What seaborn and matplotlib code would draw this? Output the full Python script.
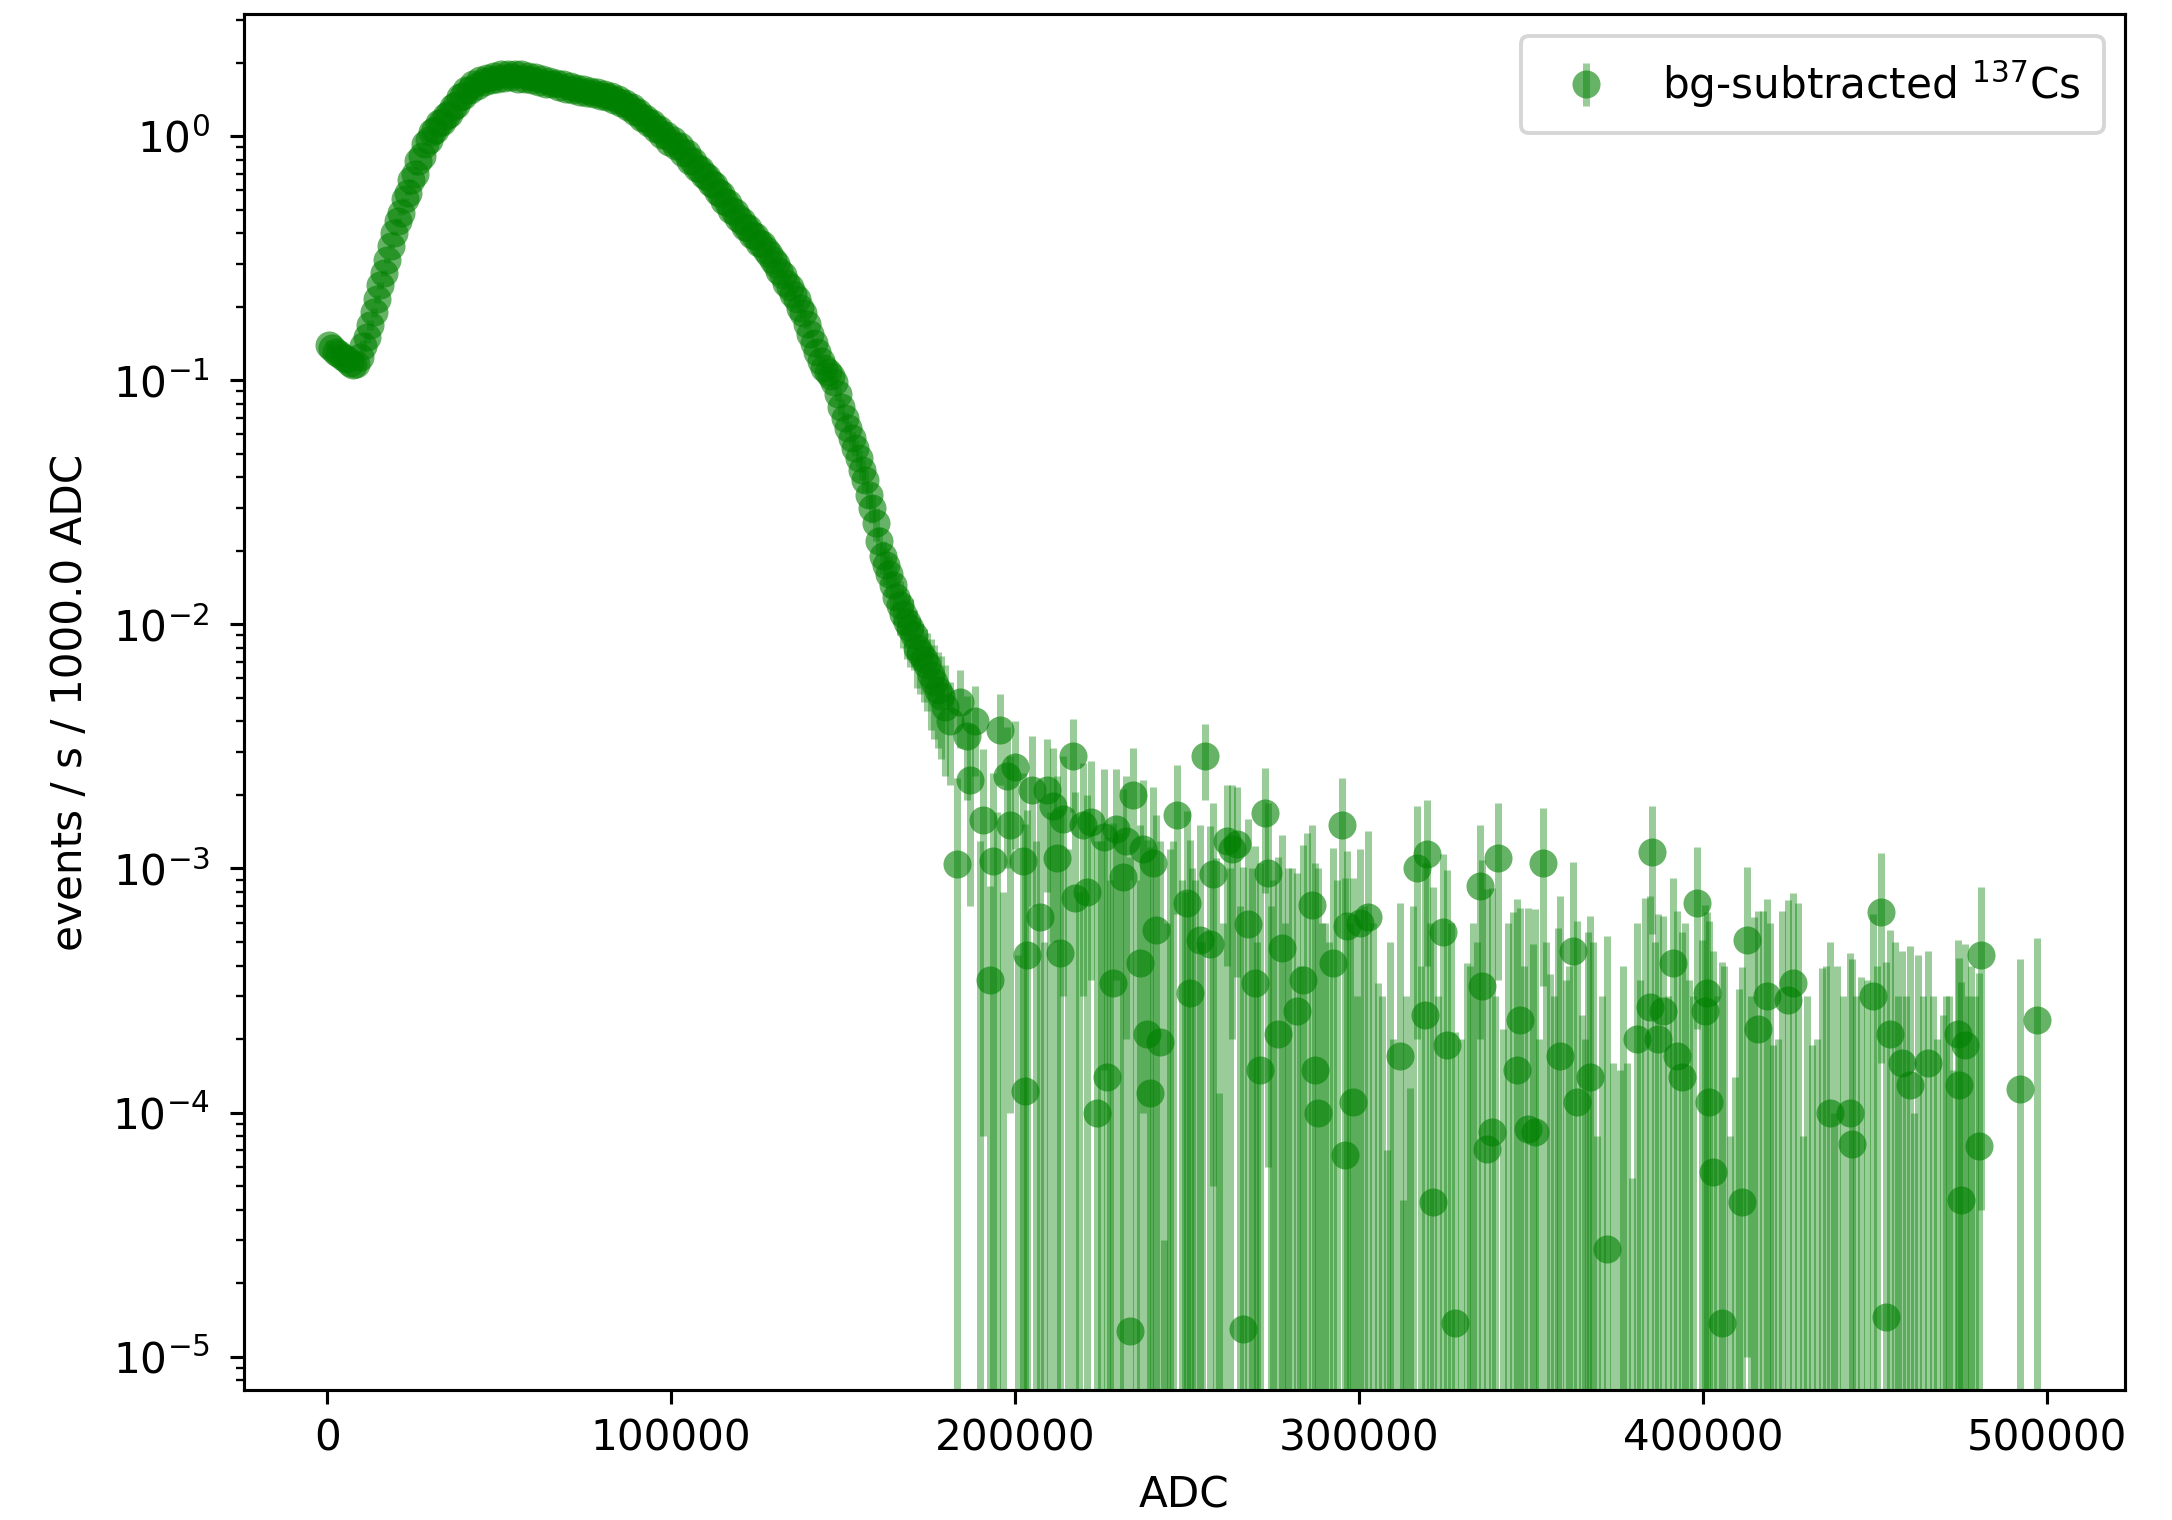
import numpy as np
import pandas as pd
import seaborn as sns
import matplotlib
matplotlib.use('Agg')
import matplotlib.pyplot as plt

# bg-subtracted 137Cs spectrum, 1000 ADC bins, rates in events / s / 1000 ADC
# photopeak region (bin centres 500 ... 179500)
peak_adc = np.arange(500, 180000, 1000)
peak_rate = [0.140, 0.135, 0.131, 0.128, 0.125, 0.122, 0.118, 0.115, 0.117, 0.125,
             0.138, 0.150, 0.168, 0.190, 0.215, 0.245, 0.275, 0.310, 0.355, 0.400,
             0.450, 0.485, 0.550, 0.585, 0.660, 0.700, 0.790, 0.830, 0.930, 0.960,
             1.04, 1.06, 1.13, 1.14, 1.21, 1.23, 1.32, 1.34, 1.44, 1.46,
             1.55, 1.55, 1.63, 1.61, 1.69, 1.66, 1.73, 1.69, 1.77, 1.71,
             1.79, 1.73, 1.80, 1.74, 1.80, 1.71, 1.79, 1.71, 1.77, 1.69,
             1.74, 1.67, 1.71, 1.64, 1.68, 1.63, 1.65, 1.59, 1.63, 1.56,
             1.61, 1.54, 1.58, 1.52, 1.56, 1.50, 1.53, 1.49, 1.51, 1.46,
             1.49, 1.44, 1.46, 1.41, 1.42, 1.36, 1.37, 1.31, 1.31, 1.25,
             1.25, 1.19, 1.19, 1.13, 1.13, 1.07, 1.07, 1.01, 1.01, 0.95,
             0.96, 0.91, 0.91, 0.85, 0.85, 0.79, 0.79, 0.74, 0.73, 0.69,
             0.68, 0.64, 0.63, 0.59, 0.58, 0.54, 0.53, 0.50, 0.49, 0.46,
             0.45, 0.425, 0.42, 0.395, 0.39, 0.365, 0.36, 0.34, 0.33, 0.31,
             0.30, 0.28, 0.27, 0.25, 0.24, 0.225, 0.215, 0.197, 0.188, 0.170,
             0.155, 0.142, 0.130, 0.120, 0.112, 0.108, 0.104, 0.098, 0.088, 0.078,
             0.070, 0.064, 0.058, 0.053, 0.048, 0.043, 0.039, 0.034, 0.030, 0.026,
             0.022, 0.019, 0.0175, 0.016, 0.0145, 0.013, 0.012, 0.011, 0.0102, 0.0097,
             0.0090, 0.0080, 0.0076, 0.0072, 0.0068, 0.0062, 0.0058, 0.0054, 0.0051, 0.0046]
peak_err = ([0.006] * 10 + [0.008] * 10 + [0.010] * 10 + [0.012] * 20 + [0.013] * 50
            + [0.011] * 10 + [0.010] * 10 + [0.009] * 10 + [0.008] * 10 + [0.006] * 10
            + [0.004] * 10 + [0.003] * 10
            + [0.0025, 0.0025, 0.0024, 0.0024, 0.0024, 0.0025, 0.0024, 0.0023, 0.0023, 0.0022])

# Compton tail (negative rates have no marker on the log axis, only the bar)
tail_adc = [181000, 183000, 184000, 186000, 187000, 188500, 190800, 192700, 193700, 195600,
            197600, 198500, 200000, 200800, 202300, 202900, 203500, 205000, 207300, 209300,
            211000, 212200, 213100, 214000, 216900, 217500, 219800, 220900, 222000, 223800,
            226000, 226700, 228500, 229500, 231400, 232200, 233400, 234300, 236300, 237200,
            238300, 239200, 240100, 241000, 242200, 243300, 245000, 247100, 248500, 250000,
            250900, 252300, 253800, 255200, 256700, 257600, 259300, 261600, 263200, 264500,
            266300, 267800, 269800, 271200, 272700, 273600, 275000, 276500, 277600, 279400,
            281900, 283700, 285000, 286300, 287200, 288200, 290200, 292500, 295000, 295900,
            296500, 298300, 300300, 302600, 305500, 308100, 311900, 312900, 314800, 316900,
            319200, 319800, 321500, 324400, 325600, 327900, 331300, 335200, 335800, 337200,
            338700, 340400, 341900, 344800, 345900, 346800, 349100, 350600, 351200, 353500,
            355500, 357900, 358400, 362200, 363400, 364800, 366600, 367200, 369100, 372100,
            373800, 377900, 379300, 380800, 381700, 383300, 384600, 385200, 387000, 388400,
            391300, 392400, 393900, 396000, 398200, 399700, 400600, 401200, 401800, 402900,
            405500, 406200, 407800, 409300, 410500, 411300, 412800, 415000, 416000, 417500,
            418600, 420500, 423000, 424700, 426200, 427800, 429100, 431700, 434500, 437000,
            439000, 442700, 443300, 446000, 449400, 451700, 453200, 454400, 455800, 457800,
            460200, 462500, 465600, 468000, 471500, 474100, 474600, 475000, 476200, 478000,
            480200, 480800, 492200, 497100,
            310000, 329600, 333300, 360300, 375800, 440800, 447700, 469800]
tail_rate = [4.0e-3, 1.04e-3, 4.8e-3, 3.5e-3, 2.3e-3, 4.0e-3, 1.58e-3, 3.5e-4, 1.07e-3, 3.7e-3,
             2.4e-3, 1.5e-3, 2.6e-3, -3.0e-4, 1.07e-3, 1.23e-4, 4.4e-4, 2.1e-3, 6.3e-4, 2.1e-3,
             1.8e-3, 1.1e-3, 4.5e-4, 1.6e-3, 2.9e-3, 7.6e-4, 1.5e-3, 8.0e-4, 1.55e-3, 1.0e-4,
             1.35e-3, 1.4e-4, 3.4e-4, 1.45e-3, 9.2e-4, 1.3e-3, 1.27e-5, 2.0e-3, 4.1e-4, 1.2e-3,
             2.1e-4, 1.2e-4, 1.05e-3, 5.6e-4, 1.95e-4, -8.0e-4, -2.0e-4, 1.65e-3, -3.0e-4, 7.2e-4,
             3.1e-4, -4.0e-4, 5.1e-4, 2.9e-3, 4.9e-4, 9.5e-4, -5.0e-4, 1.3e-3, 1.2e-3, 1.26e-3,
             1.3e-5, 5.9e-4, 3.4e-4, 1.5e-4, 1.69e-3, 9.6e-4, -3.0e-4, 2.1e-4, 4.7e-4, -2.0e-4,
             2.6e-4, 3.5e-4, -3.0e-4, 7.1e-4, 1.5e-4, 1.0e-4, -4.0e-4, 4.1e-4, 1.5e-3, 6.7e-5,
             5.8e-4, 1.1e-4, 6.0e-4, 6.3e-4, -4.0e-4, -6.0e-4, 1.7e-4, -7.0e-4, -6.0e-4, 1.0e-3,
             2.5e-4, 1.15e-3, 4.3e-5, 5.5e-4, 1.9e-4, 1.37e-5, -4.0e-4, 8.5e-4, 3.3e-4, 7.1e-5,
             8.3e-5, 1.1e-3, -5.0e-4, -3.0e-4, 1.5e-4, 2.4e-4, 8.6e-5, -3.0e-4, 8.3e-5, 1.05e-3,
             -3.0e-4, -2.0e-4, 1.7e-4, 4.6e-4, 1.1e-4, -3.0e-4, -2.0e-4, 1.4e-4, -5.0e-4, 2.75e-5,
             -4.0e-4, -4.0e-4, -5.0e-4, 2.0e-4, -2.0e-4, -1.0e-4, 2.7e-4, 1.17e-3, 2.0e-4, 2.6e-4,
             4.1e-4, 1.7e-4, 1.4e-4, -3.0e-4, 7.2e-4, -2.0e-4, 2.6e-4, 3.1e-4, 1.1e-4, 5.7e-5,
             1.37e-5, -3.0e-4, -4.0e-4, -3.0e-4, -2.0e-4, 4.3e-5, 5.1e-4, -2.0e-4, 2.2e-4, -2.0e-4,
             3.0e-4, -3.0e-4, -2.0e-4, 2.9e-4, 3.4e-4, -2.0e-4, -4.0e-4, -3.0e-4, -3.0e-4, 1.0e-4,
             -3.0e-4, 1.0e-4, 7.4e-5, -3.0e-4, 3.0e-4, 6.6e-4, 1.45e-5, 2.1e-4, -3.0e-4, 1.6e-4,
             1.3e-4, -3.0e-4, 1.6e-4, -3.0e-4, -3.0e-4, 2.1e-4, 1.3e-4, 4.4e-5, 1.9e-4, -3.0e-4,
             7.3e-5, 4.4e-4, 1.25e-4, 2.4e-4,
             -5.0e-4, -4.0e-4, -3.0e-4, -3.0e-4, -4.0e-4, -3.0e-4, -3.0e-4, -3.0e-4]
tail_err = [1.8e-3, 1.3e-3, 1.7e-3, 1.6e-3, 1.6e-3, 1.6e-3, 1.5e-3, 5.0e-4, 1.4e-3, 1.5e-3,
            1.4e-3, 1.4e-3, 1.4e-3, 7.4e-4, 1.4e-3, 1.4e-3, 1.3e-3, 1.4e-3, 1.3e-3, 1.3e-3,
            1.3e-3, 1.3e-3, 1.3e-3, 1.3e-3, 1.2e-3, 1.3e-3, 1.2e-3, 1.2e-3, 1.2e-3, 1.2e-3,
            1.2e-3, 1.2e-3, 1.2e-3, 1.1e-3, 1.2e-3, 1.1e-3, 1.1e-3, 1.1e-3, 1.1e-3, 1.1e-3,
            1.1e-3, 1.1e-3, 1.1e-3, 1.1e-3, 1.1e-3, 8.3e-4, 1.4e-3, 1.0e-3, 1.2e-3, 1.0e-3,
            1.0e-3, 1.3e-3, 1.0e-3, 1.0e-3, 1.0e-3, 9.0e-4, 6.2e-4, 9.0e-4, 1.0e-3, 9.0e-4,
            1.0e-3, 1.0e-3, 9.0e-4, 9.0e-4, 9.0e-4, 9.0e-4, 1.2e-3, 9.0e-4, 9.0e-4, 1.2e-3,
            7.0e-4, 9.0e-4, 1.7e-3, 8.0e-4, 9.0e-4, 9.0e-4, 1.0e-3, 8.0e-4, 8.5e-4, 8.5e-4,
            6.0e-4, 8.0e-4, 6.0e-4, 8.0e-4, 7.4e-4, 6.7e-4, 5.5e-4, 7.44e-4, 7.26e-4, 8.0e-4,
            8.0e-4, 7.5e-4, 8.0e-4, 6.0e-4, 8.0e-4, 2.0e-4, 8.1e-4, 6.5e-4, 7.5e-4, 7.5e-4,
            7.5e-4, 7.5e-4, 7.2e-4, 9.6e-4, 6.0e-4, 4.5e-4, 6.0e-4, 7.9e-4, 6.0e-4, 7.2e-4,
            6.7e-4, 7.7e-4, 6.0e-4, 6.0e-4, 5.0e-4, 5.5e-4, 7.5e-4, 5.0e-4, 5.8e-4, 5.0e-4,
            5.6e-4, 5.6e-4, 5.54e-4, 4.0e-4, 5.5e-4, 8.6e-4, 5.0e-4, 6.3e-4, 4.5e-4, 3.8e-4,
            5.0e-4, 5.0e-4, 4.1e-4, 6.5e-4, 5.0e-4, 7.1e-4, 4.5e-4, 3.5e-4, 5.0e-4, 4.0e-4,
            4.0e-4, 7.0e-4, 4.8e-4, 4.4e-4, 5.2e-4, 3.5e-4, 5.0e-4, 8.3e-4, 4.5e-4, 8.7e-4,
            4.5e-4, 4.9e-4, 8.7e-4, 4.5e-4, 4.5e-4, 9.2e-4, 4.8e-4, 4.9e-4, 6.9e-4, 4.0e-4,
            7.0e-4, 3.5e-4, 3.5e-4, 6.6e-4, 3.5e-4, 5.0e-4, 4.0e-4, 3.5e-4, 8.0e-4, 3.0e-4,
            3.5e-4, 7.4e-4, 3.0e-4, 5.0e-4, 6.0e-4, 3.0e-4, 3.0e-4, 3.0e-4, 3.0e-4, 7.0e-4,
            3.0e-4, 4.0e-4, 3.0e-4, 2.8e-4,
            7.0e-4, 6.0e-4, 9.0e-4, 6.5e-4, 5.5e-4, 6.0e-4, 6.5e-4, 5.5e-4]

# further tail bins that came out below zero (bar only)
empty_adc = [189700, 194700, 196600, 206200, 208300, 210100, 215400, 218700, 224900, 227600,
             230500, 235300, 244200, 246000, 249300, 251600, 254500, 258500, 260500, 262400,
             265400, 268800, 270500, 274300, 278500, 280600, 282800, 289200, 291300, 293700,
             297400, 299300, 301400, 304000, 306800, 309000, 313800, 315800, 318000, 320600,
             323000, 326700, 332300, 334200, 339500, 343300, 347900, 352300, 354500, 356700,
             361200, 365700, 368100, 370600, 376900, 386000, 389800, 394900, 397100, 404200,
             413900, 419500, 421800, 430400, 433100, 435700, 438000, 444600, 450500, 456800,
             459000, 461300, 463900, 466800, 470600, 472800, 477100, 479100]
empty_rate = [-3.0e-4, -2.0e-4, -4.0e-4, -3.0e-4, -5.0e-4, -2.0e-4, -3.0e-4, -4.0e-4, -3.0e-4, -2.0e-4,
              -3.0e-4, -4.0e-4, -3.0e-4, -2.0e-4, -3.0e-4, -4.0e-4, -3.0e-4, -2.0e-4, -3.0e-4, -4.0e-4,
              -3.0e-4, -2.0e-4, -3.0e-4, -4.0e-4, -3.0e-4, -2.0e-4, -3.0e-4, -4.0e-4, -3.0e-4, -2.0e-4,
              -3.0e-4, -4.0e-4, -3.0e-4, -2.0e-4, -3.0e-4, -4.0e-4, -3.0e-4, -2.0e-4, -3.0e-4, -4.0e-4,
              -3.0e-4, -2.0e-4, -3.0e-4, -4.0e-4, -3.0e-4, -2.0e-4, -3.0e-4, -4.0e-4, -3.0e-4, -2.0e-4,
              -3.0e-4, -4.0e-4, -3.0e-4, -2.0e-4, -3.0e-4, -4.0e-4, -3.0e-4, -2.0e-4, -3.0e-4, -4.0e-4,
              -3.0e-4, -2.0e-4, -3.0e-4, -4.0e-4, -3.0e-4, -2.0e-4, -3.0e-4, -3.0e-4, -3.0e-4, -2.0e-4,
              -3.0e-4, -3.0e-4, -3.0e-4, -2.0e-4, -3.0e-4, -3.0e-4, -3.0e-4, -2.0e-4]
empty_err = [1.6e-3, 1.9e-3, 1.2e-3, 1.6e-3, 1.0e-3, 1.9e-3, 1.5e-3, 1.2e-3, 1.6e-3, 1.1e-3,
             1.7e-3, 1.3e-3, 9.0e-4, 1.5e-3, 1.1e-3, 1.4e-3, 8.0e-4, 1.3e-3, 9.0e-4, 1.4e-3,
             1.0e-3, 1.2e-3, 8.0e-4, 1.1e-3, 9.0e-4, 1.2e-3, 7.0e-4, 1.0e-3, 8.0e-4, 1.1e-3,
             9.0e-4, 7.0e-4, 1.0e-3, 8.0e-4, 6.0e-4, 9.0e-4, 6.0e-4, 9.0e-4, 7.0e-4, 1.0e-3,
             6.0e-4, 8.0e-4, 7.0e-4, 9.0e-4, 6.0e-4, 8.0e-4, 7.0e-4, 6.0e-4, 8.0e-4, 5.0e-4,
             7.0e-4, 6.0e-4, 8.0e-4, 5.0e-4, 7.0e-4, 9.0e-4, 6.0e-4, 8.0e-4, 6.0e-4, 7.0e-4,
             6.0e-4, 8.0e-4, 5.0e-4, 7.0e-4, 5.0e-4, 6.0e-4, 4.0e-4, 6.0e-4, 7.0e-4, 5.0e-4,
             6.0e-4, 4.0e-4, 6.0e-4, 5.0e-4, 6.0e-4, 4.5e-4, 6.0e-4, 5.0e-4]

df = pd.DataFrame({
    'adc': np.concatenate([peak_adc, tail_adc, empty_adc]),
    'rate': np.concatenate([peak_rate, tail_rate, empty_rate]),
    'err': np.concatenate([peak_err, tail_err, empty_err]),
})

plt.rcParams['font.size'] = 10.85

fig = plt.figure(figsize=(2172 / 280, 1520 / 280), dpi=280)
ax = fig.add_axes([0.1123, 0.0855, 0.866, 0.905])

# error bars first, then the points through seaborn
bars = ax.errorbar(df['adc'], df['rate'], yerr=df['err'], fmt='none',
                   ecolor='green', elinewidth=1.8, alpha=0.4)
sns.scatterplot(data=df[df['rate'] > 0], x='adc', y='rate', color='green',
                linewidth=0, s=52, alpha=0.6, legend=False, ax=ax)
points = ax.collections[-1]

ax.set_yscale('log')
ax.set_xlim(-24200, 522700)
ax.set_ylim(7.3e-6, 3.15)
ax.tick_params(axis='y', pad=5.3)
ax.set_xlabel('ADC')
ax.set_ylabel('events / s / 1000.0 ADC', labelpad=5.4)
ax.legend(handles=[(bars, points)], labels=['bg-subtracted $^{137}$Cs'],
          loc='upper right', scatteryoffsets=[0.5], borderpad=0.55)

plt.savefig('out.png', dpi=280)
